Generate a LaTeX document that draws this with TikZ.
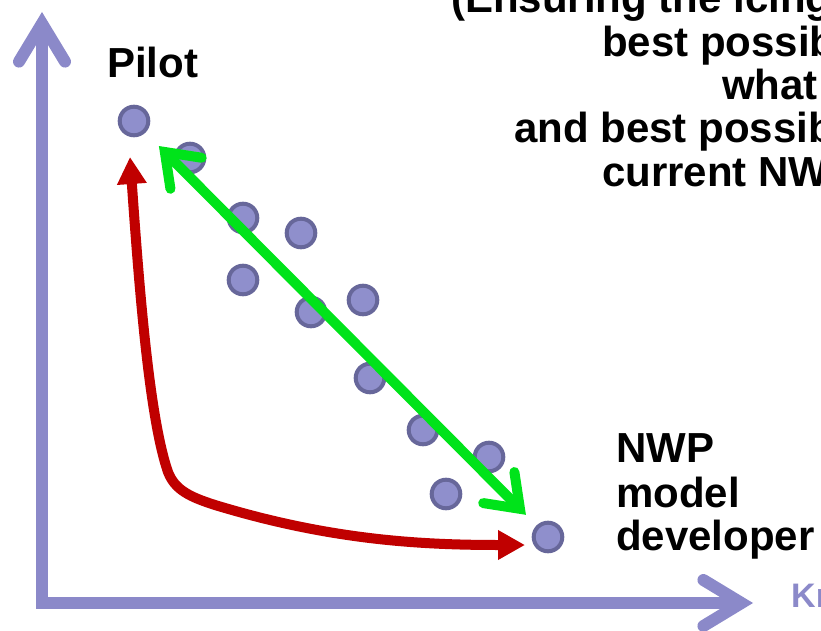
\documentclass[tikz,border=0pt]{standalone}
\usepackage{fontspec}
\setmainfont{Liberation Sans}
\usetikzlibrary{arrows.meta}
\definecolor{axiscol}{HTML}{8B89C9}
\definecolor{dotfill}{HTML}{8F8FCC}
\definecolor{dotline}{HTML}{67679A}
\definecolor{grn}{HTML}{00E31A}
\definecolor{rd}{HTML}{C00000}
\begin{document}
\begin{tikzpicture}[x=1pt,y=-1pt,
  dot/.style={circle,draw=dotline,fill=dotfill,line width=4pt,minimum size=28.6pt,inner sep=0pt},
  lbl/.style={font=\fontsize{42}{44}\selectfont\bfseries,inner sep=0pt,anchor=base west},
  axisline/.style={draw=axiscol,line width=12pt,line join=miter},
]
\useasboundingbox (0,0) rectangle (821,631);
\clip (0,0) rectangle (821,631);
% axes
\coordinate (ytip) at (42,12);
\coordinate (orig) at (42,603);
\coordinate (xtip) at (753,603);
\draw[axisline,arrows={Straight Barb[length=38pt,width=46pt,line cap=round,line join=miter]-Straight Barb[length=38pt,width=46pt,line cap=round,line join=miter]}] (ytip) -- (orig) -- (xtip);
\node[lbl,font=\fontsize{34}{36}\selectfont\bfseries,text=axiscol] (kn) at (791,607) {Kn};
% dots
\node[dot] (p)   at (134,121) {};
\node[dot] (d2)  at (190,158) {};
\node[dot] (d3)  at (243,218) {};
\node[dot] (d4)  at (301,233) {};
\node[dot] (d5)  at (243,280) {};
\node[dot] (d6)  at (311,312) {};
\node[dot] (d7)  at (363,300) {};
\node[dot] (d8)  at (370,378) {};
\node[dot] (d9)  at (423,430) {};
\node[dot] (d10) at (489,457) {};
\node[dot] (d11) at (446,494) {};
\node[dot] (n)   at (548,537) {};
% labels
\node[lbl] (pilot) at (107,78) {Pilot};
\node[lbl] (nwp1) at (616,462) {NWP};
\node[lbl] (nwp2) at (616,507) {model};
\node[lbl] (nwp3) at (616,550) {developer};
\node[lbl] (t1) at (451,13) {(Ensuring the icing};
\node[lbl] (t2) at (602,57) {best possib};
\node[lbl] (t3) at (722,100) {what};
\node[lbl] (t4) at (514,143) {and best possib};
\node[lbl] (t5) at (602,186) {current NW};
% green double arrow
\draw[grn,line width=10pt,shorten <=19pt,shorten >=15pt,
  arrows={Straight Barb[length=30pt,width=44pt,line cap=round,line join=miter]-Straight Barb[length=30pt,width=44pt,line cap=round,line join=miter]}] (p) -- (n);
% red double arrow
\coordinate (rA) at (130,157);
\coordinate (rB) at (525,545);
\draw[rd,line width=10pt,arrows={Triangle[length=27pt,width=28pt]-Triangle[length=27pt,width=28pt]}]
  (rA) .. controls (140,300) and (150,420) .. (168,472)
  .. controls (175,490) and (190,497) .. (215,505)
  .. controls (330,540) and (420,545) .. (rB);
\end{tikzpicture}
\end{document}
